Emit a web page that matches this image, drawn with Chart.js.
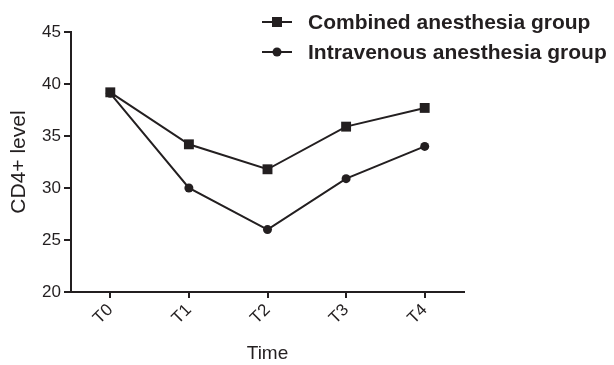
<!DOCTYPE html>
<html lang="en">
<head>
<meta charset="UTF-8">
<title>CD4+ level</title>
<script src="https://cdn.jsdelivr.net/npm/chart.js"></script>
<style>
  html, body { margin: 0; padding: 0; background: #fff; }
  .wrap { position: relative; width: 614px; height: 365px; }
  .legend {
    position: absolute; left: 262px; top: 7px;
    font: bold 21px "Liberation Sans", Arial, sans-serif; color: #231f20;
  }
  .legend div { height: 30px; display: flex; align-items: center; white-space: nowrap; }
  .legend svg { margin-right: 16px; }
</style>
</head>
<body>
<div class="wrap">
  <canvas id="cd4Chart" width="614" height="365"></canvas>
  <div class="legend">
    <div>
      <svg width="30" height="12"><line x1="0" y1="6" x2="30" y2="6" stroke="#231f20" stroke-width="2"/><rect x="10" y="1" width="10" height="10" fill="#231f20"/></svg>
      Combined anesthesia group
    </div>
    <div>
      <svg width="30" height="12"><line x1="0" y1="6" x2="30" y2="6" stroke="#231f20" stroke-width="2"/><circle cx="15" cy="6" r="4.5" fill="#231f20"/></svg>
      Intravenous anesthesia group
    </div>
  </div>
</div>
<script>
  // values
  const timePoints = ['T0', 'T1', 'T2', 'T3', 'T4'];
  const combinedGroup = [39.2, 34.2, 31.8, 35.9, 37.7];
  const intravenousGroup = [39.1, 30.0, 26.0, 30.9, 34.0];
  const yTicks = [20, 25, 30, 35, 40, 45];

  const ink = '#231f20';
  Chart.defaults.font.family = '"Liberation Sans", Arial, sans-serif';
  Chart.defaults.color = ink;

  const ctx = document.getElementById('cd4Chart').getContext('2d');
  const cd4Chart = new Chart(ctx, {
    type: 'line',
    data: {
      labels: timePoints,
      datasets: [
        {
          label: 'Combined anesthesia group',
          data: combinedGroup,
          borderColor: ink,
          backgroundColor: ink,
          borderWidth: 2,
          pointStyle: 'rect',
          pointRadius: 7,
          pointBorderWidth: 0,
          tension: 0
        },
        {
          label: 'Intravenous anesthesia group',
          data: intravenousGroup,
          borderColor: ink,
          backgroundColor: ink,
          borderWidth: 2,
          pointStyle: 'circle',
          pointRadius: 4.5,
          pointBorderWidth: 0,
          tension: 0
        }
      ]
    },
    options: {
      responsive: false,
      animation: false,
      layout: { padding: { top: 32, right: 150, left: 0, bottom: 0 } },
      plugins: {
        legend: { display: false },
        tooltip: { enabled: false }
      },
      scales: {
        x: {
          offset: true,
          grid: { offset: false, drawOnChartArea: false, tickLength: 6, color: ink, lineWidth: 2 },
          border: { color: ink, width: 2 },
          ticks: { font: { size: 17 }, maxRotation: 45, minRotation: 45, padding: 2 },
          title: { display: true, text: 'Time', font: { size: 19 }, padding: 0 },
          afterFit: function(scale) { scale.height = 73; }
        },
        y: {
          min: 20,
          max: 45,
          afterBuildTicks: function(scale) { scale.ticks = yTicks.map(v => ({ value: v })); },
          grid: { drawOnChartArea: false, tickLength: 7, color: ink, lineWidth: 2 },
          border: { color: ink, width: 2 },
          ticks: { font: { size: 17 }, padding: 3 },
          title: { display: true, text: 'CD4+ level', font: { size: 21 }, padding: { top: 7, bottom: 0 } },
          afterFit: function(scale) { scale.width = 71; }
        }
      }
    }
  });
</script>
</body>
</html>
